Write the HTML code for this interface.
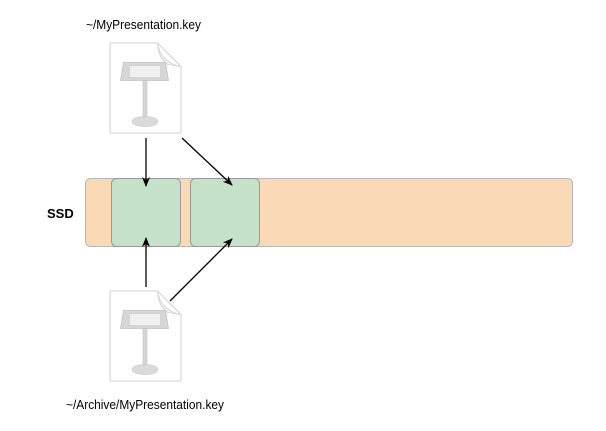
<!DOCTYPE html>
<html><head><style>body{margin:0;background:#fff}svg{display:block}</style></head><body>
<svg width="606" height="431" viewBox="0 0 606 431" xmlns="http://www.w3.org/2000/svg" font-family="Liberation Sans, sans-serif">
<defs>
<marker id="a" markerWidth="10" markerHeight="10" refX="9" refY="5" orient="auto" markerUnits="userSpaceOnUse"><path d="M0,1 L10,5 L0,9 L3,5 z" fill="#000"/></marker>
<g id="doc">
<path d="M0.5,0.5 H48 L71.5,24 V90.5 H0.5 Z" fill="#fff" stroke="#cfcfcf" stroke-width="1"/>
<path d="M48,0.5 Q51,20 71.5,24 L58,22 Q49,16 48,0.5 Z" fill="#f1f1f1" stroke="#cfcfcf" stroke-width="0.8"/>
<path d="M14,20 H56 L59,38 H11 Z" fill="#d6d6d6" stroke="#c2c2c2" stroke-width="0.8"/>
<rect x="20" y="23" width="31" height="12" fill="#f0f0f0" stroke="#c8c8c8" stroke-width="0.6"/>
<rect x="33.5" y="38" width="4" height="40" fill="#d6d6d6" stroke="#c2c2c2" stroke-width="0.6"/>
<ellipse cx="35.5" cy="79" rx="13" ry="5" fill="#dadada" stroke="#c6c6c6" stroke-width="0.6"/>
</g>
</defs>
<text x="86" y="29" font-size="13" textLength="115" lengthAdjust="spacingAndGlyphs">~/MyPresentation.key</text>
<use href="#doc" x="109.5" y="42.5"/>
<rect x="85.5" y="178.5" width="487" height="68" rx="5" fill="#fad9b6" stroke="#b8b8b8"/>
<rect x="111.5" y="178.5" width="69" height="68" rx="5" fill="#c5e1c9" stroke="#999"/>
<rect x="190.5" y="178.5" width="69" height="68" rx="5" fill="#c5e1c9" stroke="#999"/>
<text x="47" y="218" font-size="13" font-weight="bold">SSD</text>
<use href="#doc" x="109.5" y="290.5"/>
<text x="66" y="409" font-size="13" textLength="158" lengthAdjust="spacingAndGlyphs">~/Archive/MyPresentation.key</text>
<g stroke="#000" stroke-width="1.3" fill="none">
<line x1="146" y1="138" x2="146" y2="186" marker-end="url(#a)"/>
<line x1="182" y1="138" x2="232" y2="185" marker-end="url(#a)"/>
<line x1="146" y1="287" x2="146" y2="238" marker-end="url(#a)"/>
<line x1="170" y1="301" x2="232" y2="239" marker-end="url(#a)"/>
</g>
</svg>
</body></html>
